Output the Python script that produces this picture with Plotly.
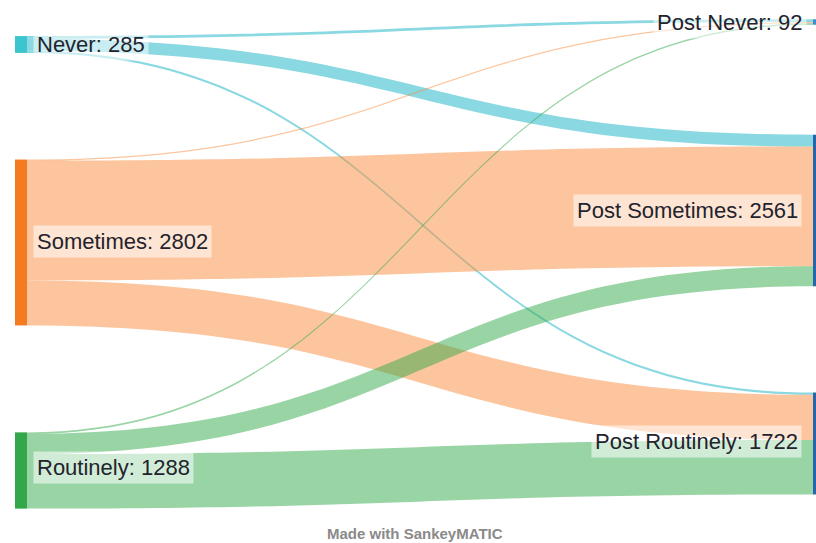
import plotly.graph_objects as go

# ---- data ----
node_names = ["Never", "Sometimes", "Routinely", "Post Never", "Post Sometimes", "Post Routinely"]
node_totals = [285, 2802, 1288, 92, 2561, 1722]
node_colors = ["#3cc5cd", "#f47b20", "#33a84a", "#3d8fd1", "#2566ad", "#2566ad"]

link_source = [0, 0, 0, 1, 1, 1, 2, 2, 2]
link_target = [3, 4, 5, 3, 4, 5, 3, 4, 5]
link_value = [46, 200, 39, 20, 2021, 761, 26, 340, 922]
link_colors = ["rgba(60,190,205,0.6)"] * 3 + ["rgba(250,140,60,0.5)"] * 3 + ["rgba(51,170,74,0.5)"] * 3

labels = [f"{n}: {v}" for n, v in zip(node_names, node_totals)]

# ---- layout (pixel targets) ----
W, H = 816, 543
node_cx_px = [21, 21, 21, 819, 819, 819]
node_cy_px = [44.5, 242.5, 470.5, 22, 210.5, 443.5]
node_x = [c / W for c in node_cx_px]
node_y = [c / H for c in node_cy_px]

fig = go.Figure(go.Sankey(
    arrangement="fixed",
    domain=dict(x=[0, 1], y=[0, 1]),
    node=dict(
        label=[""] * len(node_names),
        customdata=labels,
        hovertemplate="%{customdata}<extra></extra>",
        color=node_colors,
        x=node_x,
        y=node_y,
        pad=142,
        thickness=12,
        line=dict(width=0),
    ),
    link=dict(
        source=link_source,
        target=link_target,
        value=link_value,
        color=link_colors,
    ),
))

# label annotations with translucent boxes
label_x_px = [33, 33, 33, 807, 802, 802]
label_y_px = [44, 242, 467, 22, 210, 441]
for i, lab in enumerate(labels):
    left = i < 3
    fig.add_annotation(
        x=label_x_px[i] / W,
        y=1 - label_y_px[i] / H,
        xref="paper", yref="paper",
        text=lab,
        showarrow=False,
        xanchor="left" if left else "right",
        yanchor="middle",
        font=dict(family="Liberation Sans, Arial, sans-serif", size=22, color="#23232d"),
        bgcolor="rgba(255,255,255,0.55)",
        borderpad=3,
    )

fig.add_annotation(
    x=415 / W, y=1 - 533 / H,
    xref="paper", yref="paper",
    text="<b>Made with SankeyMATIC</b>",
    showarrow=False,
    xanchor="center", yanchor="middle",
    font=dict(family="Liberation Sans, Arial, sans-serif", size=15, color="#8a8a8a"),
)

fig.update_layout(
    width=W, height=H,
    margin=dict(l=0, r=0, t=0, b=0),
    paper_bgcolor="white",
    plot_bgcolor="white",
)

fig.write_html(
    "out.html",
    config={"displayModeBar": False},
    post_script="document.body.style.margin='0';document.body.style.overflow='hidden';",
)
